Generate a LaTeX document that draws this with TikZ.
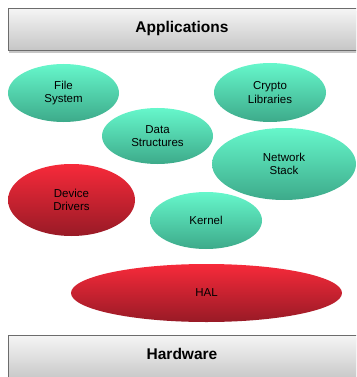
\documentclass[tikz,border=0pt]{standalone}
\usepackage{fontspec}
\setmainfont{Liberation Sans}
\usetikzlibrary{shapes.geometric,shadows}
\begin{document}
\begin{tikzpicture}[x=1pt,y=-1pt,
        layerbox/.style={rectangle,draw=gray!85!black,line width=0.8pt,
            top color=gray!8,bottom color=gray!45,
            drop shadow={shadow xshift=1pt,shadow yshift=-2.5pt,opacity=0.45},
            inner sep=0pt,font=\fontsize{15.5}{18}\selectfont\bfseries},
        blob/.style={ellipse,inner sep=0pt,align=center,
            font=\fontsize{11.5}{13.5}\selectfont},
        greenblob/.style={blob,top color=green1,bottom color=green2},
        redblob/.style={blob,top color=red1,bottom color=red2}]
            \definecolor{green1}{HTML}{66F7CB}
            \definecolor{green2}{HTML}{3DAA8A}
            \definecolor{red1}{HTML}{F72A3A}
            \definecolor{red2}{HTML}{981A26}
            \useasboundingbox (0,0) rectangle (356,377);
            \clip (0,0) rectangle (356,377);
            \node[layerbox,minimum width=352pt,minimum height=42pt,anchor=north west] (apps) at (8,8) {};
            \node[font=\fontsize{15.5}{18}\selectfont\bfseries] (appslabel) at (182,28) {Applications};
            \node[layerbox,minimum width=352pt,minimum height=46pt,anchor=north west] (hw) at (8,335) {};
            \node[font=\fontsize{15.5}{18}\selectfont\bfseries] (hwlabel) at (182,354) {Hardware};
            \node[greenblob,minimum width=111pt,minimum height=58pt] (fs) at (63.5,93) {File\\System};
            \node[greenblob,minimum width=112pt,minimum height=59pt] (crypto) at (270,92.5) {Crypto\\Libraries};
            \node[greenblob,minimum width=111pt,minimum height=56pt] (ds) at (157.5,136) {Data\\Structures};
            \node[greenblob,minimum width=144pt,minimum height=72pt] (net) at (284,164) {Network\\Stack};
            \node[redblob,minimum width=127pt,minimum height=72pt] (drv) at (71.5,200) {Device\\Drivers};
            \node[greenblob,minimum width=112pt,minimum height=57pt] (kern) at (206,220.5) {Kernel};
            \node[redblob,minimum width=271pt,minimum height=58pt] (hal) at (206.5,293) {HAL};
        \end{tikzpicture}
\end{document}
